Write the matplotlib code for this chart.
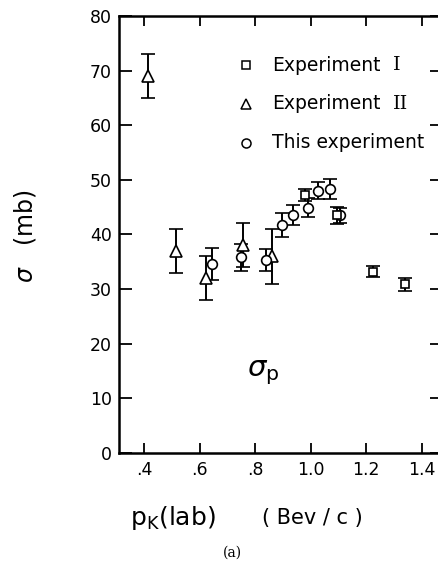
import matplotlib
matplotlib.use("Agg")
import matplotlib.pyplot as plt

# Experiment I (squares)
exp1_p = [0.98, 1.095, 1.224, 1.339]
exp1_s = [47.2, 43.5, 33.2, 30.9]
exp1_e = [1.1, 1.6, 1.0, 1.2]

# Experiment II (triangles)
exp2_p = [0.414, 0.515, 0.624, 0.757, 0.862]
exp2_s = [69.0, 37.0, 32.0, 38.0, 36.0]
exp2_e = [4.0, 4.0, 4.0, 4.0, 5.0]

# This experiment (circles)
this_p = [0.645, 0.75, 0.84, 0.895, 0.935, 0.99, 1.028, 1.071, 1.105]
this_s = [34.6, 35.8, 35.3, 41.8, 43.6, 44.9, 48.0, 48.3, 43.5]
this_e = [3.0, 2.5, 2.0, 2.2, 1.8, 1.8, 1.6, 1.8, 1.4]

xticks = [0.4, 0.6, 0.8, 1.0, 1.2, 1.4]
xticklabels = [".4", ".6", ".8", "1.0", "1.2", "1.4"]
yticks = [0, 10, 20, 30, 40, 50, 60, 70, 80]

legend_labels = ["Experiment", "Experiment", "This experiment"]
legend_numerals = ["I", "II", ""]

plt.rcParams['font.family'] = ['DejaVu Sans']
fig = plt.figure(figsize=(4.39, 5.64), dpi=100)
ax = fig.add_axes([0.271, 0.197, 0.735, 0.7748])

common = dict(color='black', capsize=5, elinewidth=1.4, capthick=1.4,
              markerfacecolor='white', markeredgecolor='black',
              markeredgewidth=1.2, linestyle='none')
ax.errorbar(exp2_p, exp2_s, yerr=exp2_e, marker='^', markersize=8.5, **common)
ax.errorbar(this_p, this_s, yerr=this_e, marker='o', markersize=7, **common)
ax.errorbar(exp1_p, exp1_s, yerr=exp1_e, marker='s', markersize=6, **common)

ax.set_xlim(0.309, 1.472)
ax.set_ylim(0, 80)
ax.set_xticks(xticks)
ax.set_xticklabels(xticklabels)
ax.set_yticks(yticks)
ax.tick_params(axis='both', direction='in', width=1.3, labelsize=12.5)
ax.tick_params(axis='x', length=7, top=True, pad=6)
ax.tick_params(axis='y', length=9, right=True, pad=5)
for s in ax.spines.values():
    s.set_linewidth(1.8)

# legend drawn as text with marker symbols
leg_x_marker = 0.767
leg_x_text = 0.861
rows_y = [71.0, 63.9, 56.8]
rows_m = ['s', '^', 'o']
rows_ms = [6, 7, 6.5]
for y, m, ms, label, num in zip(rows_y, rows_m, rows_ms, legend_labels, legend_numerals):
    ax.plot([leg_x_marker], [y], marker=m, markersize=ms, markerfacecolor='white',
            markeredgecolor='black', markeredgewidth=1.1, linestyle='none')
    t = ax.text(leg_x_text, y, label, fontsize=13.5, va='center', ha='left')
    if num:
        ax.annotate(num, xy=(1.0, 0.5), xycoords=t, xytext=(9, 0),
                    textcoords='offset points', fontsize=14, family='DejaVu Serif',
                    va='center', ha='left')

ax.text(0.83, 14.6, r"$\sigma_{\mathrm{p}}$", fontsize=21, ha='center', va='center')

fig.text(0.057, 0.582, r"$\sigma$   (mb)", rotation=90, fontsize=17, ha='center', va='center')
fig.text(0.296, 0.082, r"$\mathrm{p}_{\mathrm{K}}$(lab)", fontsize=18, ha='left', va='center')
fig.text(0.597, 0.082, "( Bev / c )", fontsize=15, ha='left', va='center')
fig.text(0.53, 0.02, "(a)", fontsize=10, family='DejaVu Serif', ha='center', va='center')

fig.savefig("out.png", dpi=100)
